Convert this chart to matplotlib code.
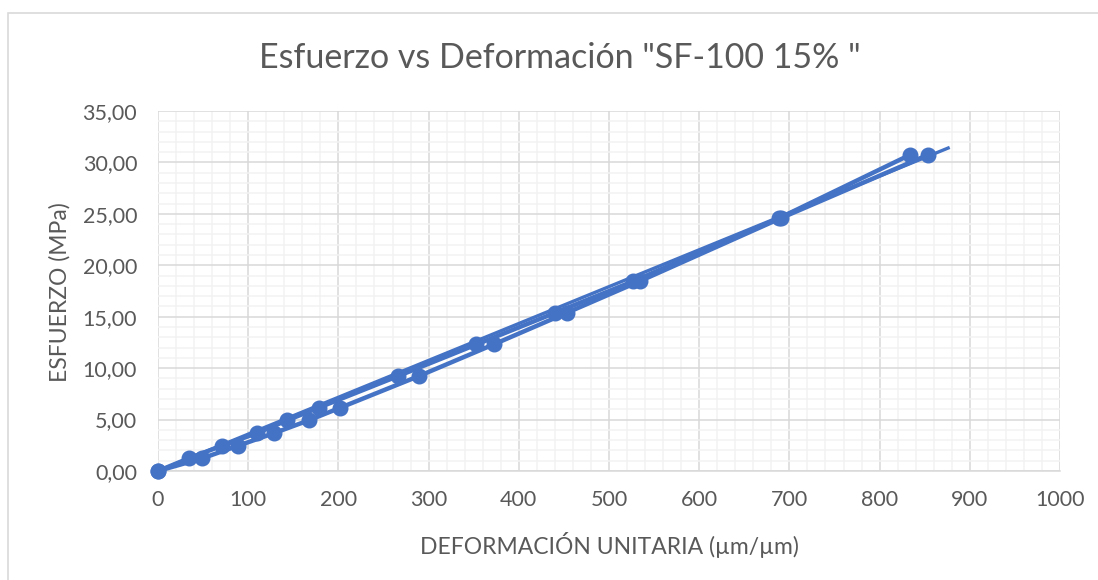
import numpy as np
import matplotlib
matplotlib.use("Agg")
import matplotlib.pyplot as plt
from matplotlib.ticker import MultipleLocator, FuncFormatter
from matplotlib.patches import Rectangle

plt.rcParams['font.family'] = ['Lato', 'DejaVu Sans']

# --- data ---
esfuerzo = [0, 1.23, 2.46, 3.69, 4.92, 6.15, 9.22, 12.30, 15.37, 18.45, 24.60, 30.75]
def_carga = [0, 34, 71, 110, 143, 178, 266, 353, 440, 527, 689, 834]
def_descarga = [0, 49, 89, 129, 167, 202, 289, 372, 453, 534, 691, 854]
tend_x = [0, 876]
tend_y = [0, 31.4]

azul = "#4472C4"
gris = "#595959"

fig = plt.figure(figsize=(10.98, 5.8), dpi=100)
fig.patches.append(Rectangle((8 / 1098, -0.01), 1.02, (580 - 13) / 580 + 0.01,
                             transform=fig.transFigure, fill=False,
                             edgecolor="#d9d9d9", linewidth=1.2))
ax = fig.add_axes([158 / 1098, 1 - 471 / 580, (1060 - 158) / 1098, (471 - 111) / 580])

ax.plot(tend_x, tend_y, color=azul, linewidth=2.4, zorder=3, clip_on=False)
ax.plot(def_carga, esfuerzo, color=azul, linewidth=3.2, marker="o",
        markersize=10.5, zorder=4, clip_on=False)
ax.plot(def_descarga, esfuerzo, color=azul, linewidth=3.2, marker="o",
        markersize=10.5, zorder=4, clip_on=False)

ax.set_xlim(0, 1000)
ax.set_ylim(0, 35)
ax.xaxis.set_major_locator(MultipleLocator(100))
ax.xaxis.set_minor_locator(MultipleLocator(20))
ax.yaxis.set_major_locator(MultipleLocator(5))
ax.yaxis.set_minor_locator(MultipleLocator(1))
ax.yaxis.set_major_formatter(FuncFormatter(lambda v, p: f"{v:.2f}".replace(".", ",")))

ax.grid(which="major", color="#d9d9d9", linewidth=1.1)
ax.grid(which="minor", color="#f2f2f2", linewidth=1.1)
ax.set_axisbelow(True)

for s in ["top", "right", "left"]:
    ax.spines[s].set_visible(False)
ax.spines["bottom"].set_color("#d9d9d9")
ax.spines["bottom"].set_linewidth(1.1)

ax.tick_params(which="both", length=0, labelsize=15.5, labelcolor=gris)
ax.tick_params(axis="x", pad=14)
ax.tick_params(axis="y", pad=15)

# axis titles placed in figure pixels, like the reference
fig.text(609 / 1098, 1 - 545 / 580, "DEFORMACIÓN UNITARIA (µm/µm)",
         ha="center", va="center", fontsize=16.5, color=gris)
fig.text(60 / 1098, 1 - 292 / 580, "ESFUERZO (MPa)", rotation=90,
         ha="center", va="center", fontsize=16.5, color=gris)
fig.text(560 / 1098, 1 - 58 / 580, 'Esfuerzo vs Deformación "SF-100 15% "',
         ha="center", va="center", fontsize=24.5, color=gris)

fig.savefig("out.png", dpi=100)
